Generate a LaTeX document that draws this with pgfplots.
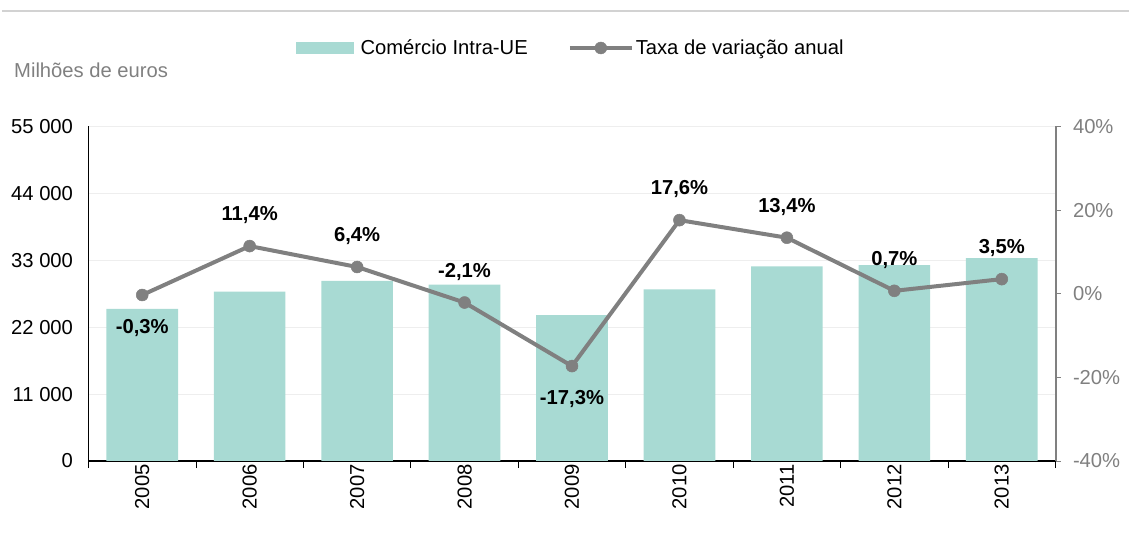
\documentclass[border=0pt]{standalone}
\usepackage{pgfplots}
\pgfplotsset{compat=1.18}
\usepackage{pgfplotstable}
\usepackage{fontspec}
\setmainfont{Liberation Sans}
\definecolor{barc}{RGB}{168,218,211}
\definecolor{linec}{RGB}{128,128,128}
\definecolor{axgray}{RGB}{128,128,128}
\definecolor{gridc}{RGB}{238,238,238}
\definecolor{txtgray}{RGB}{128,128,128}
\definecolor{topline}{RGB}{210,210,210}
\newcommand{\fs}{\fontsize{20.2bp}{24bp}\selectfont}
\pgfplotsset{
  barlegend/.style={legend image code/.code={\fill[barc, draw=none] (0bp,-6.3bp) rectangle (58bp,6.3bp); \path[draw=none, fill=none] (58bp,0bp) -- (63bp,0bp);}},
  linelegend/.style={legend image code/.code={\draw[linec, line width=4bp] (0bp,0bp) -- (62bp,0bp); \fill[linec] (31bp,0bp) circle (6bp);}},
}
\pgfplotstableread{
x val
0 25000
1 27850
2 29630
3 29010
4 23990
5 28210
6 31990
7 32210
8 33340
}\bars
\pgfplotstableread{
x rate
0 -0.3
1 11.4
2 6.4
3 -2.1
4 -17.3
5 17.6
6 13.4
7 0.7
8 3.5
}\rates
\pgfplotstableread{
x rate label
1 11.4 {11,4\%}
2 6.4 {6,4\%}
3 -2.1 {-2,1\%}
5 17.6 {17,6\%}
6 13.4 {13,4\%}
7 0.7 {0,7\%}
8 3.5 {3,5\%}
}\ratesabove
\pgfplotstableread{
x rate label
0 -0.3 {-0,3\%}
4 -17.3 {-17,3\%}
}\ratesbelow
\begin{document}
\begin{tikzpicture}
\path[use as bounding box] (0,0) rectangle (1129bp,533bp);
\draw[topline, line width=2bp] (2bp,522bp) -- (1129bp,522bp);
\node[anchor=base west, text=txtgray, font=\fs, inner sep=0pt] at (14bp,455.7bp) {Milhões de euros};
\begin{axis}[
  at={(88.5bp,72bp)}, anchor=south west, scale only axis,
  width=967bp, height=334.5bp,
  xmin=-0.5, xmax=8.5, ymin=0, ymax=55000,
  scaled y ticks=false,
  axis x line*=bottom, axis y line*=left,
  axis line style={black, line width=1.5bp, -},
  xtick={0,...,8},
  xticklabels={2005,2006,2007,2008,2009,2010,2011,2012,2013},
  minor xtick={-0.5,0.5,...,8.5},
  major tick length=0pt, minor tick length=7bp, tick align=outside,
  minor tick style={black, line width=0.8bp},
  ytick={0,11000,22000,33000,44000,55000},
  yticklabels={0,11 000,22 000,33 000,44 000,55 000},
  ymajorgrids, grid style={gridc, line width=1bp},
  yticklabel style={font=\fs, text=black, xshift=-12bp},
  xticklabel style={font=\fs, text=black, rotate=90, anchor=east},
]
\addplot[ybar, bar width=0.667, bar shift=0pt, fill=barc, draw=none] table[x=x, y=val] \bars;
\end{axis}
\begin{axis}[
  at={(88.5bp,72bp)}, anchor=south west, scale only axis,
  width=967bp, height=334.5bp,
  xmin=-0.5, xmax=8.5, ymin=-40, ymax=40,
  axis x line=none, axis y line*=right,
  y axis line style={axgray, line width=2bp, -},
  ytick={-40,-20,0,20,40},
  yticklabels={-40\%,-20\%,0\%,20\%,40\%},
  major tick length=5bp, tick align=outside,
  ytick style={axgray, line width=1bp},
  yticklabel style={font=\fs, text=txtgray, xshift=9bp},
  clip=false,
  legend style={at={(0.4985,1.2347)}, anchor=center, draw=none, fill=none, font=\fs,
    /tikz/every even column/.append style={column sep=38bp}},
  legend columns=2,
]
\addlegendimage{barlegend}
\addlegendentry{Comércio Intra-UE}
\addlegendimage{linelegend}
\addlegendentry{Taxa de variação anual}
\addplot[forget plot, linec, line width=4bp, line join=round, mark=*, mark size=6bp,
  mark options={fill=linec, draw=linec, line width=0.5bp}] table[x=x, y=rate] \rates;
\addplot[forget plot, draw=none, mark=none, nodes near coords, point meta=explicit symbolic,
  nodes near coords style={anchor=center, yshift=31bp, font=\fs\bfseries, text=black}]
  table[x=x, y=rate, meta=label] \ratesabove;
\addplot[forget plot, draw=none, mark=none, nodes near coords, point meta=explicit symbolic,
  nodes near coords style={anchor=center, yshift=-33bp, font=\fs\bfseries, text=black}]
  table[x=x, y=rate, meta=label] \ratesbelow;
\end{axis}
\end{tikzpicture}
\end{document}
